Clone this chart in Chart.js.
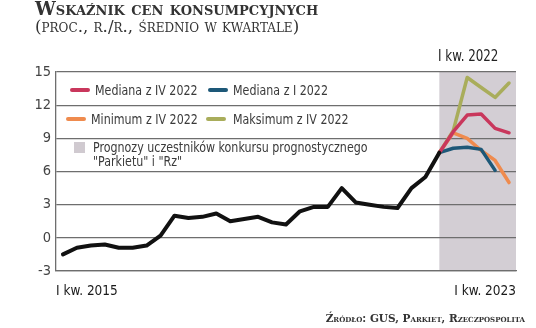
<!DOCTYPE html>
<html>
<head>
<meta charset="utf-8">
<script src="https://cdn.jsdelivr.net/npm/chart.js@4"></script>
<style>
  body { margin: 0; background: #fff; }
  #wrap { position: relative; width: 536px; height: 328px; overflow: hidden; }
  #cpi-chart { position: absolute; left: 0; top: 0; }
  .title { position: absolute; left: 35px; top: 0px; font-family: "DejaVu Serif", serif; font-variant: small-caps; color: #333; white-space: nowrap; }
  .title .main { font-size: 18.5px; font-weight: bold; line-height: 18px; }
  .title .sub { font-size: 16.7px; font-weight: normal; line-height: 17px; }
  .source { position: absolute; right: 11px; top: 312px; font-family: "DejaVu Serif", serif; font-variant: small-caps; font-weight: bold; font-size: 10.5px; color: #333; white-space: nowrap; }
  .legend { position: absolute; left: 0; top: 0; font-family: "DejaVu Sans Condensed", sans-serif; font-size: 14px; color: #3a3a3a; white-space: nowrap; line-height: 14px; }
  .legend .sw { position: absolute; height: 4px; border-radius: 2px; }
  .legend .txt, .period { transform: scaleX(0.88); transform-origin: left center; }
  .legend .txt { position: absolute; }
  .period { position: absolute; left: 438px; top: 47px; font-family: "DejaVu Sans Condensed", sans-serif; font-size: 15px; color: #222; white-space: nowrap; }
</style>
</head>
<body>
<div id="wrap">
  <canvas id="cpi-chart" width="536" height="328"></canvas>
  <div class="title">
    <div class="main">Wskaźnik cen konsumpcyjnych</div>
    <div class="sub">(proc., r./r., średnio w kwartale)</div>
  </div>
  <div class="period">I kw. 2022</div>
  <div class="legend">
    <div class="sw" style="left:70px;top:88px;width:20px;background:#c9375c;"></div>
    <div class="txt" style="left:95px;top:83px;">Mediana z IV 2022</div>
    <div class="sw" style="left:208px;top:88px;width:20px;background:#1d5878;"></div>
    <div class="txt" style="left:233px;top:83px;">Mediana z I 2022</div>
    <div class="sw" style="left:66px;top:117px;width:20px;background:#ef8b4e;"></div>
    <div class="txt" style="left:91px;top:112px;">Minimum z IV 2022</div>
    <div class="sw" style="left:206px;top:117px;width:20px;background:#a9ad5b;"></div>
    <div class="txt" style="left:233px;top:112px;">Maksimum z IV 2022</div>
    <div class="sw" style="left:74px;top:142px;width:11px;height:11px;border-radius:0;background:#d0cad0;"></div>
    <div class="txt" style="left:93px;top:140px;">Prognozy uczestników konkursu prognostycznego</div>
    <div class="txt" style="left:93px;top:154px;">"Parkietu" i "Rz"</div>
  </div>
  <div class="source">Źródło: GUS, Parkiet, Rzeczpospolita</div>
</div>

<script>
// kwartały od I kw. 2015 do I kw. 2023
const romans = ['I', 'II', 'III', 'IV'];
const years = [2015, 2016, 2017, 2018, 2019, 2020, 2021, 2022, 2023];
const categories = [];
years.forEach(y => romans.forEach(q => categories.push(q + ' kw. ' + y)));
categories.length = 33;

// CPI faktyczny, I kw. 2015 - IV kw. 2021
const cpi = [-1.5, -0.9, -0.7, -0.6, -0.9, -0.9, -0.7, 0.2,
             2.0, 1.8, 1.9, 2.2, 1.5, 1.7, 1.9, 1.4,
             1.2, 2.4, 2.8, 2.8, 4.5, 3.2, 3.0, 2.8,
             2.7, 4.5, 5.5, 7.7];

// prognozy od IV kw. 2021 do I kw. 2023
const medianApr = [7.7, 9.6, 11.1, 11.2, 9.9, 9.5];
const medianJan = [7.7, 8.1, 8.2, 8.0, 6.1, null];
const minApr    = [7.7, 9.5, 9.0, 7.9, 7.0, 5.0];
const maxApr    = [7.7, 9.7, 14.5, 13.6, 12.7, 14.0];

const yTicks = [-3, 0, 3, 6, 9, 12, 15];

const forecastStart = cpi.length - 1;

function points(values, start) {
  return values.map((v, i) => ({ x: start + i, y: v }));
}

function lineSet(values, start, color, width) {
  return {
    data: points(values, start),
    borderColor: color,
    borderWidth: width,
    pointRadius: 0,
    tension: 0,
    borderJoinStyle: 'round',
    borderCapStyle: 'round',
    spanGaps: false
  };
}

// szare tlo okresu prognoz
const forecastShade = {
  id: 'forecastShade',
  beforeDraw(chart) {
    const { ctx, chartArea, scales } = chart;
    const left = scales.x.getPixelForValue(forecastStart);
    ctx.save();
    ctx.fillStyle = '#d3ced4';
    ctx.fillRect(left, chartArea.top, chartArea.right - left, chartArea.bottom - chartArea.top);
    ctx.restore();
  }
};

const gridColor = '#6e6e6e';
const tickFamily = '"DejaVu Sans Condensed", sans-serif';

new Chart(document.getElementById('cpi-chart'), {
  type: 'line',
  data: {
    datasets: [
      lineSet(cpi, 0, '#111111', 4),
      lineSet(medianApr, forecastStart, '#c9375c', 3.5),
      lineSet(medianJan, forecastStart, '#1d5878', 3.5),
      lineSet(minApr, forecastStart, '#ef8b4e', 3.5),
      lineSet(maxApr, forecastStart, '#a9ad5b', 3.5)
    ]
  },
  options: {
    responsive: false,
    animation: false,
    events: [],
    layout: { padding: { top: 72, right: 20, left: 0, bottom: 0 } },
    plugins: {
      legend: { display: false },
      tooltip: { enabled: false }
    },
    scales: {
      x: {
        type: 'linear',
        min: -0.5,
        max: categories.length - 0.5,
        afterBuildTicks: scale => {
          scale.ticks = [{ value: -0.5 }, { value: categories.length - 0.5 }];
        },
        afterFit: scale => { scale.height = 57; },
        grid: { display: false },
        border: { display: true, color: gridColor, width: 1.3 },
        ticks: {
          align: 'inner',
          autoSkip: false,
          maxRotation: 0,
          padding: 4,
          color: '#1a1a1a',
          font: { family: tickFamily, size: 13.5 },
          callback: v => v < 0 ? categories[0] : categories[categories.length - 1]
        }
      },
      y: {
        min: yTicks[0],
        max: yTicks[yTicks.length - 1],
        afterBuildTicks: scale => {
          scale.ticks = yTicks.map(v => ({ value: v }));
        },
        afterFit: scale => { scale.width = 56; },
        grid: { color: gridColor, lineWidth: 1.3, drawTicks: false },
        border: { display: true, color: gridColor, width: 1.3 },
        ticks: {
          padding: 5,
          color: '#444',
          font: { family: tickFamily, size: 14.5 }
        }
      }
    }
  },
  plugins: [forecastShade]
});
</script>
</body>
</html>
